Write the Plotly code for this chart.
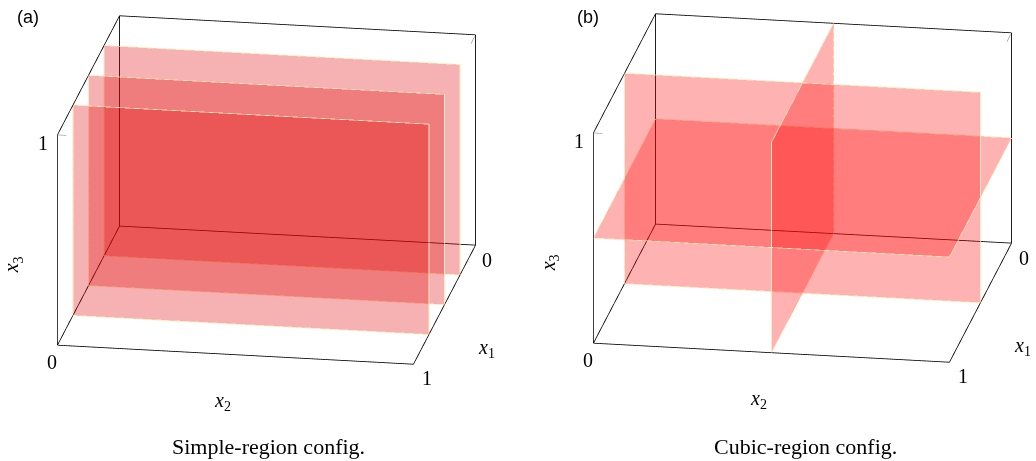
import plotly.graph_objects as go

# ---- data ----
axis_range = [0, 1]
tick_vals = [0, 1]
tick_text = ["0", "1"]
simple_x1_planes = [0.25, 0.5, 0.75]   # planes x1 = const (panel a)
cubic_x1_planes = [0.5]                # panel b
cubic_x2_planes = [0.5]
cubic_x3_planes = [0.5]
panel_labels = ["(a)", "(b)"]
captions = ["Simple-region config.", "Cubic-region config."]

SERIF = "Liberation Serif"
SANS = "Liberation Sans"
EDGE = "rgb(255,226,175)"

lo, hi = axis_range


def plane(axis, c):
    pts = []
    for a, b in [(lo, lo), (hi, lo), (hi, hi), (lo, hi)]:
        if axis == 1:
            pts.append((c, a, b))
        elif axis == 2:
            pts.append((a, c, b))
        else:
            pts.append((a, b, c))
    return pts


def plane_traces(axis, c, color, scene):
    pts = plane(axis, c)
    xs = [p[0] for p in pts]
    ys = [p[1] for p in pts]
    zs = [p[2] for p in pts]
    mesh = go.Mesh3d(x=xs, y=ys, z=zs, i=[0, 0], j=[1, 2], k=[2, 3],
                     color=color, opacity=0.3, flatshading=True,
                     lighting=dict(ambient=1, diffuse=0, specular=0, fresnel=0, roughness=1),
                     hoverinfo="skip", showscale=False, scene=scene)
    edge = go.Scatter3d(x=xs + [xs[0]], y=ys + [ys[0]], z=zs + [zs[0]], mode="lines",
                        line=dict(color=EDGE, width=1.5), hoverinfo="skip",
                        showlegend=False, scene=scene)
    return [mesh, edge]


def box_trace(scene):
    # 9 box edges: the three edges meeting at the near top corner are not drawn
    xs, ys, zs = [], [], []
    c = [lo, hi]
    for a in c:
        for b in c:
            if not (a == hi and b == hi):
                xs += [lo, hi, None]; ys += [a, a, None]; zs += [b, b, None]
                xs += [a, a, None]; ys += [lo, hi, None]; zs += [b, b, None]
                xs += [a, a, None]; ys += [b, b, None]; zs += [lo, hi, None]
    return go.Scatter3d(x=xs, y=ys, z=zs, mode="lines", line=dict(color="black", width=1.6),
                        hoverinfo="skip", showlegend=False, scene=scene)


def tick_trace(scene):
    t = 0.025 * (hi - lo)
    xs = [hi, hi, None, lo + 0.5 * t, lo + 3 * t]
    ys = [lo, lo + t, None, hi, hi]
    zs = [tick_vals[1], tick_vals[1], None, hi, hi]
    return go.Scatter3d(x=xs, y=ys, z=zs, mode="lines", line=dict(color="rgb(150,150,150)", width=1.3),
                        hoverinfo="skip", showlegend=False, scene=scene)


fig = go.Figure()
fig.add_trace(box_trace("scene"))
fig.add_trace(tick_trace("scene"))
for c in simple_x1_planes:
    for tr in plane_traces(1, c, "rgb(225,0,0)", "scene"):
        fig.add_trace(tr)
fig.add_trace(box_trace("scene2"))
fig.add_trace(tick_trace("scene2"))
for c in cubic_x1_planes:
    for tr in plane_traces(1, c, "rgb(255,0,0)", "scene2"):
        fig.add_trace(tr)
for c in cubic_x2_planes:
    for tr in plane_traces(2, c, "rgb(255,0,0)", "scene2"):
        fig.add_trace(tr)
for c in cubic_x3_planes:
    for tr in plane_traces(3, c, "rgb(255,0,0)", "scene2"):
        fig.add_trace(tr)

mid = (lo + hi) / 2


def scene_annots():
    f = dict(family=SERIF, size=20, color="black")
    return [
        dict(x=hi, y=lo, z=tick_vals[1], text=tick_text[1], xshift=-14, yshift=-8),
        dict(x=hi, y=tick_vals[0], z=lo, text=tick_text[0], xshift=-5, yshift=-17),
        dict(x=tick_vals[1], y=hi, z=lo, text=tick_text[1], xshift=14, yshift=-14),
        dict(x=tick_vals[0], y=hi, z=lo, text=tick_text[0], xshift=12, yshift=-15),
        dict(x=mid, y=hi, z=lo, text="<i>x</i><sub>1</sub>", xshift=42, yshift=-44),
        dict(x=hi, y=mid, z=lo, text="<i>x</i><sub>2</sub>", xshift=-13, yshift=-47),
        dict(x=hi, y=lo, z=mid, text="<i>x</i><sub>3</sub>", xshift=-44, yshift=-25, textangle=-90),
    ], f


S = 1.92


def scene_layout(domx, domy):
    ann, f = scene_annots()
    for a in ann:
        a.update(showarrow=False, font=f)
    ax = dict(visible=False, range=axis_range, showspikes=False)
    L = 2.0
    return dict(
        domain=dict(x=domx, y=domy),
        xaxis=ax, yaxis=ax, zaxis=ax,
        aspectmode="manual", aspectratio=dict(x=1.045 * S, y=1.0 * S, z=0.615 * S),
        camera=dict(projection=dict(type="orthographic"),
                    eye=dict(x=0.934 * L, y=0.156 * L, z=0.32 * L),
                    up=dict(x=0, y=0, z=1), center=dict(x=0, y=0, z=0)),
        bgcolor="white",
        annotations=ann,
    )


def paper_note(x, y, text, family, size):
    return dict(x=x / 1036, y=1 - y / 461, xref="paper", yref="paper", text=text,
                xanchor="center", yanchor="middle", showarrow=False,
                font=dict(family=family, size=size, color="black"))


fig.update_layout(
    width=1036, height=461,
    margin=dict(l=0, r=0, t=0, b=0),
    paper_bgcolor="white",
    showlegend=False,
    scene=scene_layout([0.0, 0.514], [0.18, 0.996]),
    scene2=scene_layout([0.549, 1.0], [0.184, 1.0]),
    annotations=[
        paper_note(28, 17, panel_labels[0], SANS, 18),
        paper_note(588, 17, panel_labels[1], SANS, 18),
        paper_note(268, 446, captions[0], SERIF, 22),
        paper_note(805, 446, captions[1], SERIF, 22),
    ],
)

fig.write_html("out.html", config=dict(displayModeBar=False),
               post_script="document.body.style.margin='0';document.body.style.padding='0';")
